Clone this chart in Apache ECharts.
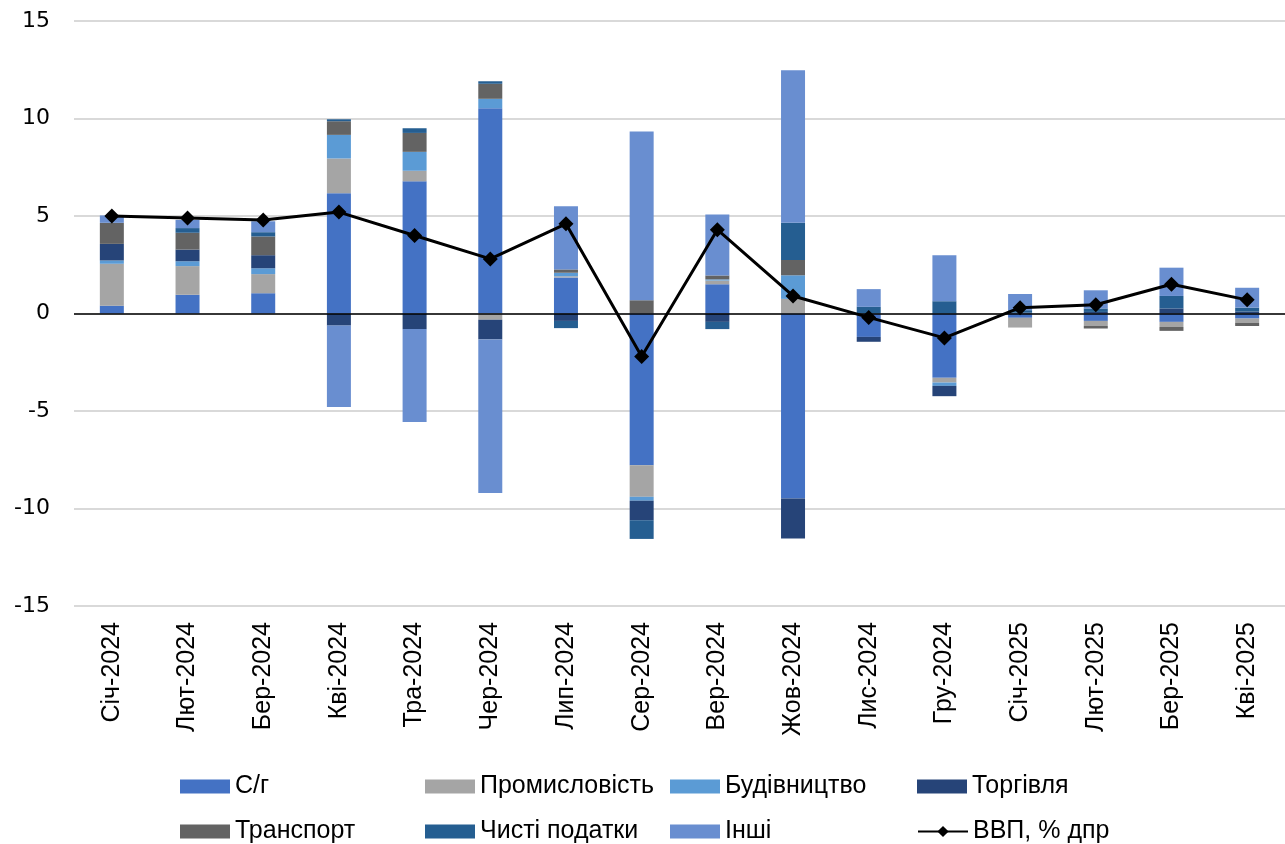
<!DOCTYPE html>
<html>
<head>
<meta charset="utf-8">
<script src="https://cdn.jsdelivr.net/npm/echarts@6/dist/echarts.min.js"></script>
<style>
  html, body { margin: 0; padding: 0; background: #fff; }
  #chart { width: 1285px; height: 844px; }
</style>
</head>
<body>
<div id="chart"></div>
<script>
// місяці
let months = ['Січ-2024', 'Лют-2024', 'Бер-2024', 'Кві-2024', 'Тра-2024', 'Чер-2024', 'Лип-2024', 'Сер-2024',
  'Вер-2024', 'Жов-2024', 'Лис-2024', 'Гру-2024', 'Січ-2025', 'Лют-2025', 'Бер-2025', 'Кві-2025']

// внески галузей, в.п.
let agri = [0.40, 0.96, 1.04, 6.17, 6.78, 10.53, 1.85, -7.78, 1.50, -9.49, -1.20, -3.30, -0.22, -0.38, -0.43, -0.26]
let industry = [2.15, 1.47, 0.98, 1.78, 0.54, -0.32, 0.06, -1.62, 0.19, 0.75, 0, -0.24, -0.50, -0.26, -0.26, -0.22]
let construction = [0.17, 0.25, 0.30, 1.21, 0.97, 0.48, 0.18, -0.20, 0.06, 1.21, 0, -0.17, 0, 0, 0, 0]
let trade = [0.85, 0.60, 0.67, -0.62, -0.80, -1.01, -0.38, -1.00, -0.43, -2.05, -0.25, -0.53, 0.04, 0.08, 0.26, 0.10]
let transport = [1.08, 0.86, 0.96, 0.70, 0.97, 0.77, 0.17, 0.68, 0.20, 0.79, 0, 0, 0, -0.13, -0.20, -0.16]
let netTaxes = [0, 0.24, 0.22, 0.10, 0.24, 0.13, -0.37, -0.96, -0.37, 1.90, 0.34, 0.63, 0.13, 0.18, 0.64, 0.20]
let other = [0.38, 0.42, 0.56, -4.18, -4.77, -7.87, 3.24, 8.65, 3.13, 7.82, 0.91, 2.36, 0.83, 0.93, 1.45, 1.02]
// ВВП, % дпр
let gdp = [5.0, 4.9, 4.8, 5.2, 4.0, 2.8, 4.6, -2.2, 4.3, 0.9, -0.2, -1.25, 0.3, 0.45, 1.5, 0.7]

let yTicks = { min: -15, max: 15, step: 5 }

let barDefs = [
  ['С/г', agri, '#4472C4'],
  ['Промисловість', industry, '#A5A5A5'],
  ['Будівництво', construction, '#5B9BD5'],
  ['Торгівля', trade, '#264478'],
  ['Транспорт', transport, '#636363'],
  ['Чисті податки', netTaxes, '#255E91'],
  ['Інші', other, '#698ED0'],
]
let gdpName = 'ВВП, % дпр'

let chart = echarts.init(document.getElementById('chart'))

let series = barDefs.map(function (d) {
  return {
    name: d[0],
    type: 'bar',
    stack: 'total',
    barWidth: 24,
    itemStyle: { color: d[2] },
    data: d[1],
  }
})
// нульова лінія
series[series.length - 1].markLine = {
  silent: true,
  symbol: 'none',
  label: { show: false },
  lineStyle: { color: '#000', width: 1.5, type: 'solid' },
  data: [{ yAxis: 0 }],
}
series.push({
  name: gdpName,
  type: 'line',
  data: gdp,
  symbol: 'diamond',
  symbolSize: 15,
  itemStyle: { color: '#000' },
  lineStyle: { color: '#000', width: 3 },
  z: 5,
})

// легенда - дві строки по чотири колонки
let legendNames = barDefs.map(function (d) { return d[0] }).concat([gdpName])
let colX = [175, 420, 665, 912]
let rowY = [769, 814]
let legends = legendNames.map(function (name, i) {
  let isLine = name === gdpName
  return {
    left: colX[i % 4],
    top: rowY[Math.floor(i / 4)],
    itemWidth: 50,
    itemHeight: 14,
    itemGap: 0,
    selectedMode: false,
    textStyle: { fontFamily: 'Liberation Sans, Arial', fontSize: 25, color: '#000' },
    data: [isLine ? { name: name } : { name: name, icon: 'rect' }],
  }
})

let option = {
  animation: false,
  backgroundColor: '#fff',
  grid: { left: 74, right: 0, top: 21, bottom: 238, containLabel: false },
  legend: legends,
  xAxis: {
    type: 'category',
    data: months,
    axisLine: { show: false, onZero: false },
    axisTick: { show: false },
    axisLabel: {
      rotate: 90,
      margin: 16,
      fontFamily: 'Liberation Sans, Arial',
      fontSize: 25,
      color: '#000',
      interval: 0,
    },
  },
  yAxis: {
    type: 'value',
    min: yTicks.min,
    max: yTicks.max,
    interval: yTicks.step,
    axisLine: { show: false },
    axisTick: { show: false },
    axisLabel: { fontFamily: 'DejaVu Sans, Verdana', fontSize: 22, color: '#000', margin: 24 },
    splitLine: { lineStyle: { color: '#d9d9d9', width: 2 } },
  },
  series: series,
}

chart.setOption(option)
</script>
</body>
</html>
